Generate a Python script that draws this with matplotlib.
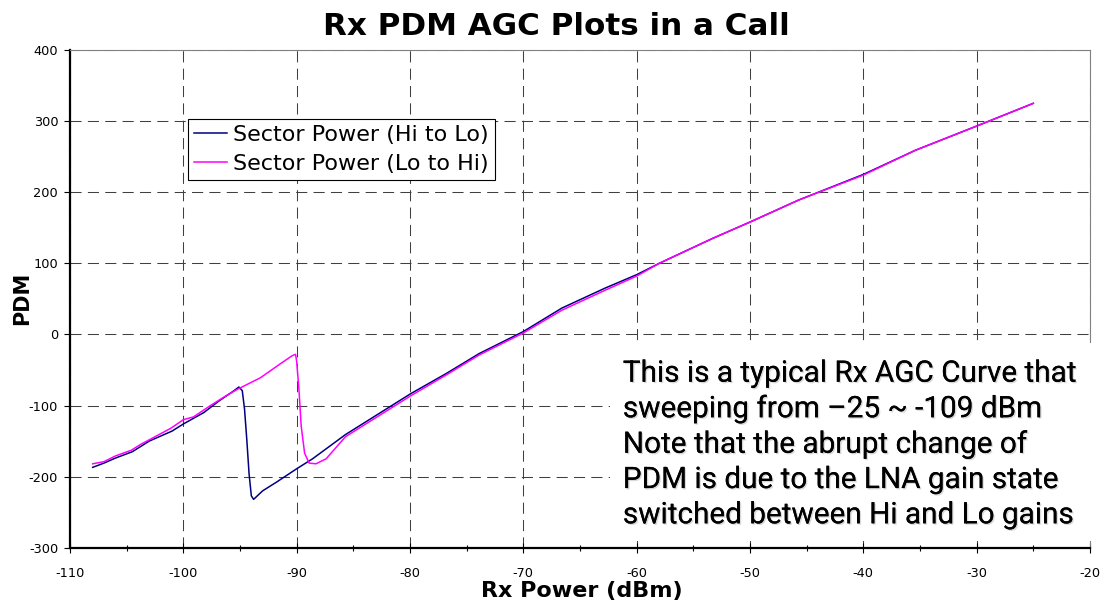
import numpy as np
import matplotlib
matplotlib.use('Agg')
import matplotlib.pyplot as plt
import matplotlib.patheffects as pe
from matplotlib.patches import Rectangle
from matplotlib.ticker import MultipleLocator

# Sector Power (Hi to Lo)
hiLoX = [-108, -107, -106, -104.5, -103, -101, -100, -98.2, -96.8, -95.6, -95.1,
         -94.8, -94.6, -94.4, -94.2, -94.0, -93.8, -93.0, -91.8, -90, -88.6, -85.7,
         -82.7, -80, -76.8, -73.9, -70, -66.6, -62.8, -60, -58, -53.3, -50, -45.7,
         -40, -35.4, -30, -25]
hiLoY = [-187, -181, -174, -165, -150, -136, -126, -110, -93, -80, -74,
         -79, -105, -148, -196, -227, -232, -220, -208, -189, -175, -141,
         -111, -84, -55, -27, 4, 37, 65, 84, 100, 135, 158, 189,
         225, 259, 293, 325]

# Sector Power (Lo to Hi)
loHiX = [-108, -107, -106, -104.6, -103.8, -101.1, -100, -99.1, -97.6, -96.2, -95.2,
         -93.2, -91.5, -90.4, -90.1, -90.0, -89.8, -89.6, -89.3, -88.9, -88.3, -87.4,
         -85.7, -82.7, -80, -76.8, -73.9, -70, -66.6, -62.8, -60, -58, -53.3, -50,
         -45.7, -40, -35.4, -30, -25]
loHiY = [-182, -179, -171, -163, -155, -132, -120, -116, -100, -86, -77,
         -61, -42, -30, -28, -38, -77, -129, -167, -181, -182, -175,
         -144, -114, -87, -57, -29, 2, 34, 62, 82, 100, 135, 158,
         189, 224, 259, 293, 325]

seriesLabels = ['Sector Power (Hi to Lo)', 'Sector Power (Lo to Hi)']
noteText = ('This is a typical Rx AGC Curve that\n'
            'sweeping from \u201325 ~ -109 dBm\n'
            'Note that the abrupt change of\n'
            'PDM is due to the LNA gain state\n'
            'switched between Hi and Lo gains')

plt.rcParams['axes.unicode_minus'] = False
plt.rcParams['lines.scale_dashes'] = False

fig = plt.figure(figsize=(11.03, 6.04), dpi=100)
ax = fig.add_axes([0.06346, 0.09321, 0.98821 - 0.06346, 0.91722 - 0.09321])

ax.plot(hiLoX, hiLoY, color='#000080', linewidth=1.1, label=seriesLabels[0])
ax.plot(loHiX, loHiY, color='#ff00ff', linewidth=1.1, label=seriesLabels[1])

ax.set_xlim(-110, -20)
ax.set_ylim(-300, 400)
ax.xaxis.set_major_locator(MultipleLocator(10))
ax.xaxis.set_minor_locator(MultipleLocator(5))
ax.yaxis.set_major_locator(MultipleLocator(100))

ax.grid(True, which='major', color='#404040', linewidth=0.75, linestyle=(0, (8, 4.5)))
ax.set_axisbelow(True)

for side in ['top', 'right']:
    ax.spines[side].set_color('#808080')
    ax.spines[side].set_linewidth(0.8)
for side in ['left', 'bottom']:
    ax.spines[side].set_color('black')
    ax.spines[side].set_linewidth(1.6)

ax.tick_params(axis='x', which='major', direction='inout', length=7.5, width=0.8, pad=10.5, labelsize=9.3)
ax.tick_params(axis='x', which='minor', direction='inout', length=5, width=0.8)
ax.tick_params(axis='y', which='major', direction='out', length=4, width=0.8, pad=4.5, labelsize=9.3)

ax.set_xlabel('Rx Power (dBm)', fontsize=16, fontweight='bold')
ax.xaxis.set_label_coords(0.5017, -0.0997)
ax.xaxis.label.set_verticalalignment('baseline')
ax.set_ylabel('PDM', fontsize=15, fontweight='bold')
ax.yaxis.set_label_coords(-0.037, 0.5)

fig.text(0.5047, 0.942, 'Rx PDM AGC Plots in a Call', fontsize=22.3, fontweight='bold',
         ha='center', va='baseline')

leg = ax.legend(loc='upper left', bbox_to_anchor=(0.1154, 0.8614), borderaxespad=0,
                fontsize=16, frameon=True, fancybox=False, framealpha=1,
                edgecolor='black', handlelength=1.5, handletextpad=0.28,
                borderpad=0.28, labelspacing=0.39)
leg.get_frame().set_linewidth(0.8)

# white box behind the note
ax.add_patch(Rectangle((0.529, 0.013), 0.475, 0.398, transform=ax.transAxes,
                       facecolor='white', edgecolor='none', zorder=3, clip_on=False))
ax.text(0.542, 0.049, noteText, transform=ax.transAxes, fontsize=21.4,
        family=['Roboto', 'DejaVu Sans'], ha='left', va='baseline',
        linespacing=1.33, zorder=4,
        path_effects=[pe.withSimplePatchShadow(offset=(1, -1), shadow_rgbFace='#a0a0a0', alpha=0.4),
                      pe.Normal()])

fig.savefig('out.png', dpi=100)
